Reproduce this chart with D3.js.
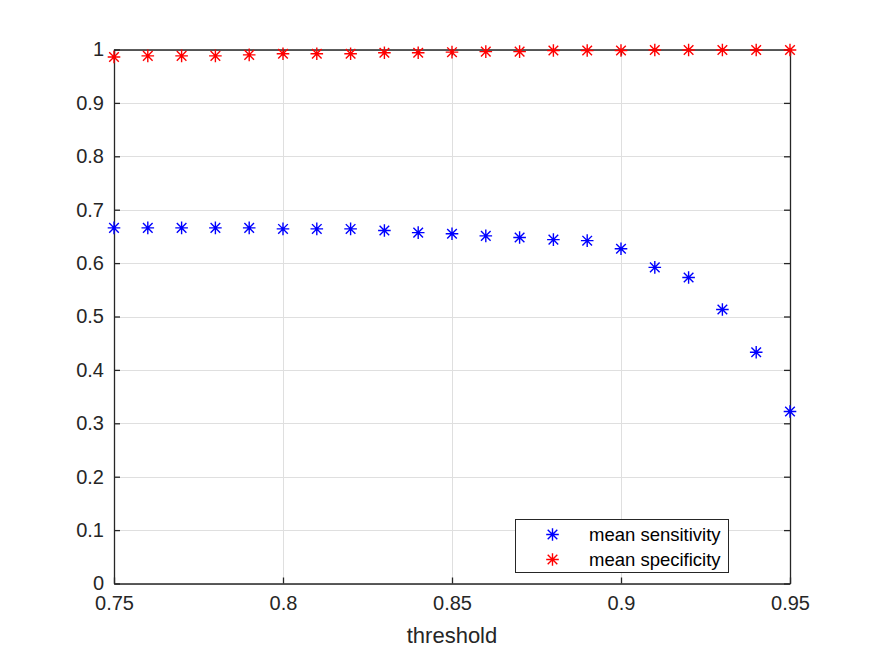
<!DOCTYPE html>
<html><head><meta charset="utf-8">
<script src="https://cdn.jsdelivr.net/npm/d3@7"></script>
<style>body{margin:0;background:#fff}svg{display:block}</style>
</head><body>
<script>
const thresholds = [0.75,0.76,0.77,0.78,0.79,0.80,0.81,0.82,0.83,0.84,0.85,0.86,0.87,0.88,0.89,0.90,0.91,0.92,0.93,0.94,0.95];
const sensitivity = [0.666,0.666,0.666,0.666,0.666,0.664,0.664,0.664,0.661,0.657,0.655,0.651,0.648,0.644,0.642,0.627,0.592,0.573,0.513,0.433,0.322];
const specificity = [0.986,0.988,0.988,0.988,0.990,0.992,0.992,0.992,0.994,0.994,0.995,0.996,0.996,0.998,0.998,0.998,0.999,0.999,0.999,0.999,0.999];
const xTicks = [0.75,0.8,0.85,0.9,0.95];
const yTicks = [0,0.1,0.2,0.3,0.4,0.5,0.6,0.7,0.8,0.9,1];
const seriesNames = ["mean sensitivity","mean specificity"];
const seriesColors = ["#0000ff","#ff0000"];

const W=875,H=656;
const L=114,R=790,T=49.5,B=583.5;
const svg=d3.select("body").append("svg").attr("width",W).attr("height",H);
const x=d3.scaleLinear().domain([0.75,0.95]).range([L,R]);
const y=d3.scaleLinear().domain([0,1]).range([B,T]);
const font="'Liberation Sans', Arial, Helvetica, sans-serif";
const axc="#262626";

// grid
const g=svg.append("g");
g.selectAll(".gx").data(xTicks).enter().append("line")
 .attr("x1",d=>Math.round(x(d))+0.5).attr("x2",d=>Math.round(x(d))+0.5).attr("y1",T).attr("y2",B)
 .attr("stroke","#dfdfdf").attr("stroke-width",1);
g.selectAll(".gy").data(yTicks).enter().append("line")
 .attr("y1",d=>Math.round(y(d))+0.5).attr("y2",d=>Math.round(y(d))+0.5).attr("x1",L).attr("x2",R)
 .attr("stroke","#dfdfdf").attr("stroke-width",1);

// axes
const fmt=d=>d3.format("")(+d.toFixed(2));
const xb=svg.append("g").attr("transform",`translate(0,${B})`)
 .call(d3.axisBottom(x).tickValues(xTicks).tickSizeInner(-6).tickSizeOuter(0).tickPadding(12).tickFormat(fmt));
const xt=svg.append("g").attr("transform",`translate(0,${T})`)
 .call(d3.axisTop(x).tickValues(xTicks).tickSizeInner(-6).tickSizeOuter(0).tickFormat(""));
const yl=svg.append("g").attr("transform",`translate(${L},0)`)
 .call(d3.axisLeft(y).tickValues(yTicks).tickSizeInner(-6).tickSizeOuter(0).tickPadding(10).tickFormat(fmt));
const yr=svg.append("g").attr("transform",`translate(${R},0)`)
 .call(d3.axisRight(y).tickValues(yTicks).tickSizeInner(-6).tickSizeOuter(0).tickFormat(""));
[xb,xt,yl,yr].forEach(a=>{
  a.selectAll("path,line").attr("stroke",axc).attr("stroke-width",1.3);
  a.selectAll("text").attr("fill",axc).style("font-family",font).style("font-size","20px");
});
xb.selectAll("text").attr("dy","0.71em");

// xlabel
svg.append("text").attr("x",(L+R)/2).attr("y",643).attr("text-anchor","middle")
 .attr("fill",axc).style("font-family",font).style("font-size","22px").text("threshold");

// asterisk marker
function star(sel,cx,cy,col){
  const r=6.3, d=4.8;
  const p=`M${cx-r},${cy}L${cx+r},${cy}M${cx},${cy-r}L${cx},${cy+r}M${cx-d},${cy-d}L${cx+d},${cy+d}M${cx-d},${cy+d}L${cx+d},${cy-d}`;
  sel.append("path").attr("d",p).attr("stroke",col).attr("stroke-width",1.4).attr("fill","none");
}
const series=[sensitivity,specificity];
series.forEach((vals,si)=>{
  const gg=svg.append("g");
  vals.forEach((v,i)=>star(gg,x(thresholds[i]),y(v),seriesColors[si]));
});

// legend
const lg=svg.append("g");
lg.append("rect").attr("x",515.5).attr("y",519.5).attr("width",213).attr("height",53)
 .attr("fill","#fff").attr("stroke",axc).attr("stroke-width",1);
seriesNames.forEach((n,i)=>{
  const yy=534.5+i*25;
  star(lg,552.5,yy,seriesColors[i]);
  lg.append("text").attr("x",589).attr("y",yy).attr("dy","0.35em").attr("fill","#000")
   .style("font-family",font).style("font-size","18.5px").text(n);
});
</script>
</body></html>
